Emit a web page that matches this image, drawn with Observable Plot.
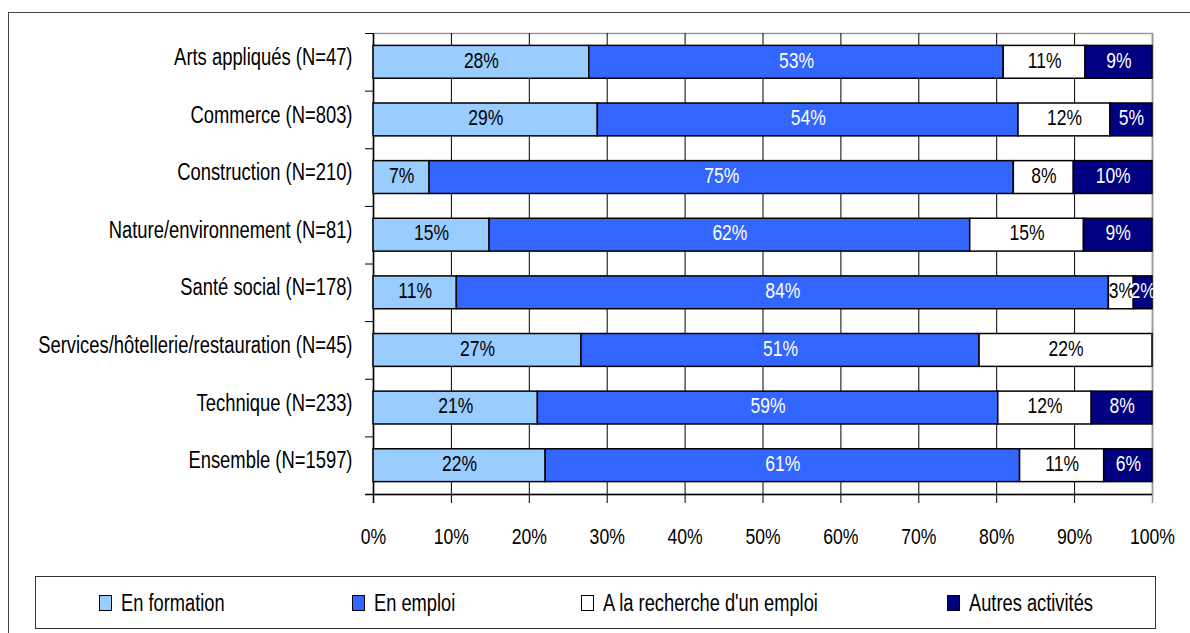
<!DOCTYPE html>
<html>
<head>
<meta charset="utf-8">
<script src="https://cdn.jsdelivr.net/npm/d3@7"></script>
<script src="https://cdn.jsdelivr.net/npm/@observablehq/plot@0.6"></script>
<style>
  html, body { margin: 0; padding: 0; background: #fff; overflow: hidden; }
  body { width: 1190px; height: 633px; position: relative; font-family: "Liberation Sans", Arial, sans-serif; }
  #outer { position: absolute; left: 8px; top: 12px; width: 1300px; height: 800px; border: 1px solid #444; box-sizing: border-box; }
  #chart { position: absolute; left: 0; top: 0; }
  #legend { position: absolute; left: 35px; top: 576px; width: 1121px; height: 53px; border: 1px solid #333; box-sizing: border-box; background: #fff; }
  .item { position: absolute; top: 0; height: 51px; display: flex; align-items: center; font-size: 18.3px; color: #000; white-space: nowrap; }
  .item span { display: inline-block; transform: scaleY(1.3); }
  .sw { width: 13px; height: 16px; border: 1.5px solid #000; box-sizing: border-box; margin-right: 9px; }
</style>
</head>
<body>
<div id="outer"></div>
<div id="chart"></div>
<div id="legend"></div>
<script>
const categories = [
  "Arts appliqués (N=47)",
  "Commerce (N=803)",
  "Construction (N=210)",
  "Nature/environnement (N=81)",
  "Santé social (N=178)",
  "Services/hôtellerie/restauration (N=45)",
  "Technique (N=233)",
  "Ensemble (N=1597)"
];
const seriesNames = ["En formation", "En emploi", "A la recherche d'un emploi", "Autres activités"];
const enFormation = [27.7, 28.8, 7.2, 14.9, 10.7, 26.7, 21.1, 22.1];
const enEmploi    = [53.2, 54.0, 75.0, 61.7, 83.7, 51.1, 59.1, 60.9];
const recherche   = [10.5, 11.8, 7.7, 14.6, 3.2, 22.2, 12.0, 10.8];
const autres      = [8.6, 5.4, 10.1, 8.8, 2.4, 0, 7.8, 6.2];
const xTicks = [0, 10, 20, 30, 40, 50, 60, 70, 80, 90, 100];
const gridTicks = [10, 20, 30, 40, 50, 60, 70, 80, 90];

const seriesValues = [enFormation, enEmploi, recherche, autres];
const colors = ["#99CCFF", "#3366FF", "#FFFFFF", "#000080"];

const table = [];
categories.forEach((cat, i) => {
  let acc = 0;
  seriesValues.forEach((vals, s) => {
    const v = vals[i];
    table.push({cat, series: seriesNames[s], s, value: v, x1: acc, x2: acc + v, mid: acc + v / 2, label: Math.round(v) + "%"});
    acc += v;
  });
});
const labeled = table.filter(d => d.value > 0);

const FONT = '"Liberation Sans", Arial, sans-serif';
const marginTop = 33, height = 560, marginBottom = 66;
const pIn = 0.43, pOut = 0.215;
const step = (height - marginTop - marginBottom) / (categories.length - pIn + 2 * pOut);
const half = step / 2;

const chart = Plot.plot({
  width: 1190,
  height,
  marginLeft: 373,
  marginRight: 38,
  marginTop,
  marginBottom,
  style: {fontFamily: FONT, background: "transparent", color: "#000"},
  x: {domain: [0, 100], axis: null},
  y: {domain: categories, paddingInner: pIn, paddingOuter: pOut, round: false, axis: null, label: null},
  color: {domain: seriesNames, range: colors},
  marks: [
    Plot.frame({stroke: "#999", strokeWidth: 1.5}),
    Plot.ruleX(gridTicks, {stroke: "#000", strokeWidth: 1, insetBottom: -9}),
    Plot.ruleX([100], {stroke: "#999", strokeWidth: 1.5, insetBottom: -9}),
    Plot.ruleX([0], {stroke: "#000", strokeWidth: 1.5, insetBottom: -9}),
    Plot.ruleY(categories, {y: d => d, dy: -half, x1: 0, x2: 0, insetLeft: -8, stroke: "#000", strokeWidth: 1}),
    Plot.ruleY([categories[categories.length - 1]], {y: d => d, dy: half, x1: 0, x2: 100, insetLeft: -8, stroke: "#000", strokeWidth: 1.5}),
    Plot.barX(table, {x1: "x1", x2: "x2", y: "cat", fill: "series", stroke: "#000", strokeWidth: 1.5}),
    Plot.text(labeled.filter(d => d.s === 0 || d.s === 2), {x: "mid", y: "cat", text: "label", fill: "#000", fontSize: 17.5, dy: -2}),
    Plot.text(labeled.filter(d => d.s === 1 || d.s === 3), {x: "mid", y: "cat", text: "label", fill: "#fff", fontSize: 17.5, dy: -2}),
    Plot.axisX({ticks: xTicks, tickFormat: d => d + "%", tickSize: 0, tickPadding: 33, fontSize: 17.6, label: null}),
    Plot.axisY({tickSize: 0, tickPadding: 21, fontSize: 18.4, label: null, dy: -5})
  ]
});
// stretch text vertically to match the reference's tall glyphs
chart.querySelectorAll("text").forEach(el => {
  let pre = "";
  for (const a of ["x", "y"]) {
    const v = el.getAttribute(a);
    if (v != null && /^-?[\d.]+$/.test(v.trim())) {
      pre += a === "x" ? ` translate(${v},0)` : ` translate(0,${v})`;
      el.removeAttribute(a);
    }
  }
  const t = el.getAttribute("transform") || "";
  el.setAttribute("transform", `${t}${pre} scale(1,1.3)`);
});
document.getElementById("chart").appendChild(chart);

const legend = document.getElementById("legend");
const itemLeft = [63, 316, 545, 911];
seriesNames.forEach((name, i) => {
  const item = document.createElement("div");
  item.className = "item";
  item.style.left = itemLeft[i] + "px";
  const sw = document.createElement("div");
  sw.className = "sw";
  sw.style.background = colors[i];
  const t = document.createElement("span");
  t.textContent = name;
  item.appendChild(sw);
  item.appendChild(t);
  legend.appendChild(item);
});
</script>
</body>
</html>
